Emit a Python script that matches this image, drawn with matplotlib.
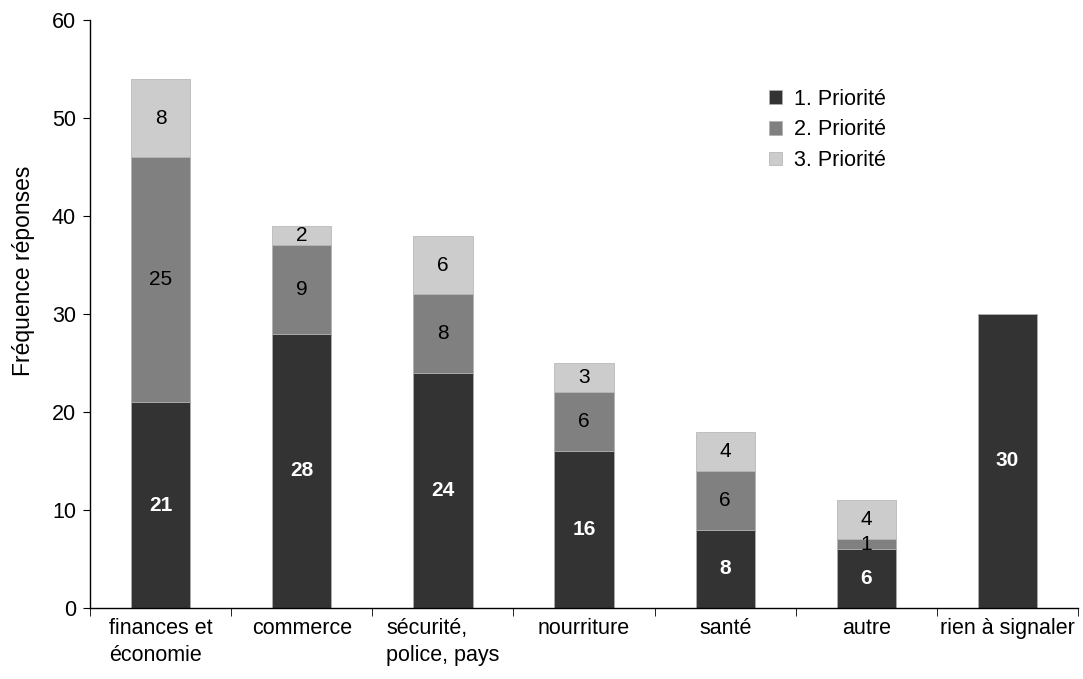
#!/usr/bin/env python3
"""Stacked bar chart: response frequency by topic and priority."""

import matplotlib
matplotlib.use('Agg')
import matplotlib.pyplot as plt
import numpy as np

plt.rcParams['font.family'] = ['Liberation Sans', 'DejaVu Sans']
plt.rcParams['font.size'] = 16

categories = ['finances et\néconomie', 'commerce', 'sécurité,\npolice, pays',
              'nourriture', 'santé', 'autre', 'rien à signaler']
prio1 = [21, 28, 24, 16, 8, 6, 30]
prio2 = [25, 9, 8, 6, 6, 1, 0]
prio3 = [8, 2, 6, 3, 4, 4, 0]
series_names = ['1. Priorité', '2. Priorité', '3. Priorité']
colors = ['#333333', '#808080', '#cccccc']

fig = plt.figure(figsize=(10.83, 6.79), dpi=100)
ax = fig.add_axes([0.0831, 0.1046, 0.9123, 0.8659])

x = np.arange(len(categories))
width = 0.42
bottom = np.zeros(len(categories))
for vals, name, col in zip([prio1, prio2, prio3], series_names, colors):
    vals = np.array(vals, dtype=float)
    ax.bar(x, vals, width, bottom=bottom, color=col, label=name,
           edgecolor='#b0b0b0', linewidth=0.5)
    for xi, v, b in zip(x, vals, bottom):
        if v <= 0:
            continue
        if name == series_names[0]:
            ax.text(xi, b + v / 2, f'{int(v)}', ha='center', va='center',
                    color='white', fontweight='bold', fontsize=15)
        else:
            ax.text(xi, b + v / 2, f'{int(v)}', ha='center', va='center',
                    color='black', fontsize=15)
    bottom += vals

ax.set_xlim(-0.5, len(categories) - 0.5)
ax.set_ylim(0, 60)
ax.set_yticks(range(0, 61, 10))
ax.set_ylabel('Fréquence réponses', fontsize=16.5)
ax.yaxis.set_label_coords(-0.056, 0.573)

ax.set_xticks(x)
ax.set_xticklabels(categories, multialignment='left', fontsize=15.5,
                   linespacing=1.4)
ax.set_xticks(np.arange(-0.5, len(categories)), minor=True)
ax.tick_params(axis='x', which='major', length=0, pad=7)
ax.tick_params(axis='x', which='minor', length=6, direction='out')
ax.tick_params(axis='y', length=5, direction='out', pad=5, labelsize=15.5)

for s in ['top', 'right']:
    ax.spines[s].set_visible(False)
ax.spines['left'].set_linewidth(1)
ax.spines['bottom'].set_linewidth(1)

ax.legend(loc='upper left', bbox_to_anchor=(0.679, 0.898), frameon=False,
          borderaxespad=0, handlelength=0.6, handleheight=0.6,
          handletextpad=0.55, labelspacing=0.45, fontsize=15.5)

fig.savefig('out.png', dpi=100, facecolor='white')
